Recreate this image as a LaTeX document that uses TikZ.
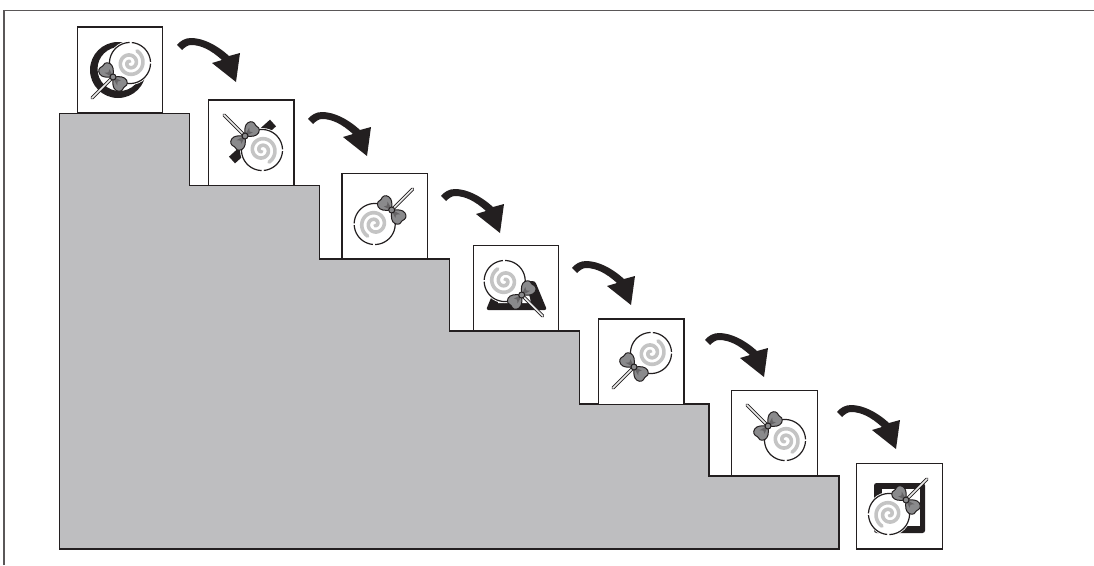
\documentclass[tikz,border=0pt]{standalone}
\definecolor{ink}{HTML}{231F20}
\definecolor{stair}{HTML}{BEBEC0}
\definecolor{bowgray}{HTML}{8A8A8C}
\definecolor{swirl}{HTML}{C4C4C4}
\newcommand{\lobeshape}{%
    \fill[bowgray,draw=ink,line width=1pt,line join=round]
      (1,-1.2) .. controls (4.5,-5.5) and (8,-8.5) .. (12,-7.3)
      .. controls (15.5,-6) and (16.5,-2.5) .. (15,0)
      .. controls (16.5,3) and (15.5,6.5) .. (11.5,7.3)
      .. controls (7.5,8) and (4.5,5) .. (1,1.2) -- cycle;
    \fill[ink!35!bowgray] (2,-1) -- (8,-3) -- (6.5,0) -- (9,3) -- (2,1) -- cycle;
}
\tikzset{
  x=1pt,y=-1pt,
  pbox/.style={draw=ink,fill=white,line width=1.2pt,minimum size=85.4pt,inner sep=0pt,outer sep=0pt},
  lolly/.pic={
    \fill[white] (17,-14) circle[radius=22];
    \begin{scope}[shift={(17,-14)}]
      \draw[ink,line width=1.2pt] plot[domain=3:85,samples=30] ({20.5*cos(\x)},{-20.5*sin(\x)});
      \draw[ink,line width=1.2pt] plot[domain=91:358,samples=80] ({20.5*cos(\x)},{-20.5*sin(\x)});
      \draw[swirl,line width=3.6pt,line cap=round] plot[domain=0:680,samples=130]
        ({(1.5+\x/680*12.5)*cos(\x+100)},{-(1.5+\x/680*12.5)*sin(\x+100)});
    \end{scope}
    \draw[ink,line width=3.4pt,line cap=round] (0,0) -- (-21,21);
    \draw[white!92!ink,line width=1.6pt,line cap=round] (0,0) -- (-21,21);
    \begin{scope}[rotate=-45]
      \lobeshape
      \begin{scope}[xscale=-1]\lobeshape\end{scope}
    \end{scope}
    \fill[bowgray,draw=ink,line width=1pt] (0,0) circle[radius=3];
  },
  bigarrow/.pic={
    \fill[ink] (0,-2) .. controls (3,-6) and (8,-9) .. (14,-9)
      .. controls (26,-9) and (40,-2) .. (52,9)
      -- (63,6) -- (59,35) -- (35,16) -- (45,13)
      .. controls (34,3) and (24,-2) .. (14,-2)
      .. controls (11,-2) and (8,0) .. (5,3) -- cycle;
  }
}
\begin{document}
\begin{tikzpicture}
\useasboundingbox (0,0) rectangle (1094,565);
\fill[white] (0,0) rectangle (1094,565);
\coordinate (frameTR) at (1094,10.5);
\coordinate (frameTL) at (4,10.5);
\coordinate (frameBL) at (4,565);
\draw[ink!75,line width=1.4pt] (frameBL) -- (frameTL) -- (frameTR);
\draw[ink,fill=stair,line width=1.2pt]
  (59.5,113.3) -- (189.3,113.3) -- (189.3,185.7) -- (319.3,185.7) -- (319.3,259)
  -- (449.3,259) -- (449.3,331) -- (579.3,331) -- (579.3,404) -- (709,404)
  -- (709,476) -- (839,476) -- (839,549) -- (59.5,549) -- cycle;
\node[pbox] (b1) at (120,69.6) {};
\node[pbox] (b2) at (251.3,142.6) {};
\node[pbox] (b3) at (384.7,216.2) {};
\node[pbox] (b4) at (516,288) {};
\node[pbox] (b5) at (641.2,361.7) {};
\node[pbox] (b6) at (774.5,433) {};
\node[pbox] (b7) at (899.5,506.2) {};
% background signs
\fill[ink,even odd rule] (118,70) circle[radius=28] (119.5,69) circle[radius=22];
\draw[ink,line width=9pt] (273,123) -- (232,160);
\fill[ink,rounded corners=2.5pt] (498,281) -- (535,281) -- (547,310) -- (486,310) -- cycle;
\fill[white] (505,281) -- (526,281) -- (531,303) -- (498,303) -- cycle;
\fill[ink,rounded corners=2.5pt] (874,483) rectangle (925,533);
\fill[white] (882,489) rectangle (920,526);
% lollipops
\pic at (113,77) {lolly};
\pic[yscale=-1] at (245,136) {lolly};
\pic[rotate=180] at (391.7,210) {lolly};
\pic[xscale=-1] at (521.7,295) {lolly};
\pic at (634,367) {lolly};
\pic[yscale=-1] at (768,426) {lolly};
\pic[rotate=180] at (906,500) {lolly};
% arrows
\coordinate (a1) at (177,47);
\coordinate (a2) at (308,121);
\coordinate (a3) at (441,198);
\coordinate (a4) at (572,270);
\coordinate (a5) at (705,342);
\coordinate (a6) at (837,414);
\foreach \n in {1,...,6}{\pic at (a\n) {bigarrow};}
\end{tikzpicture}
\end{document}
